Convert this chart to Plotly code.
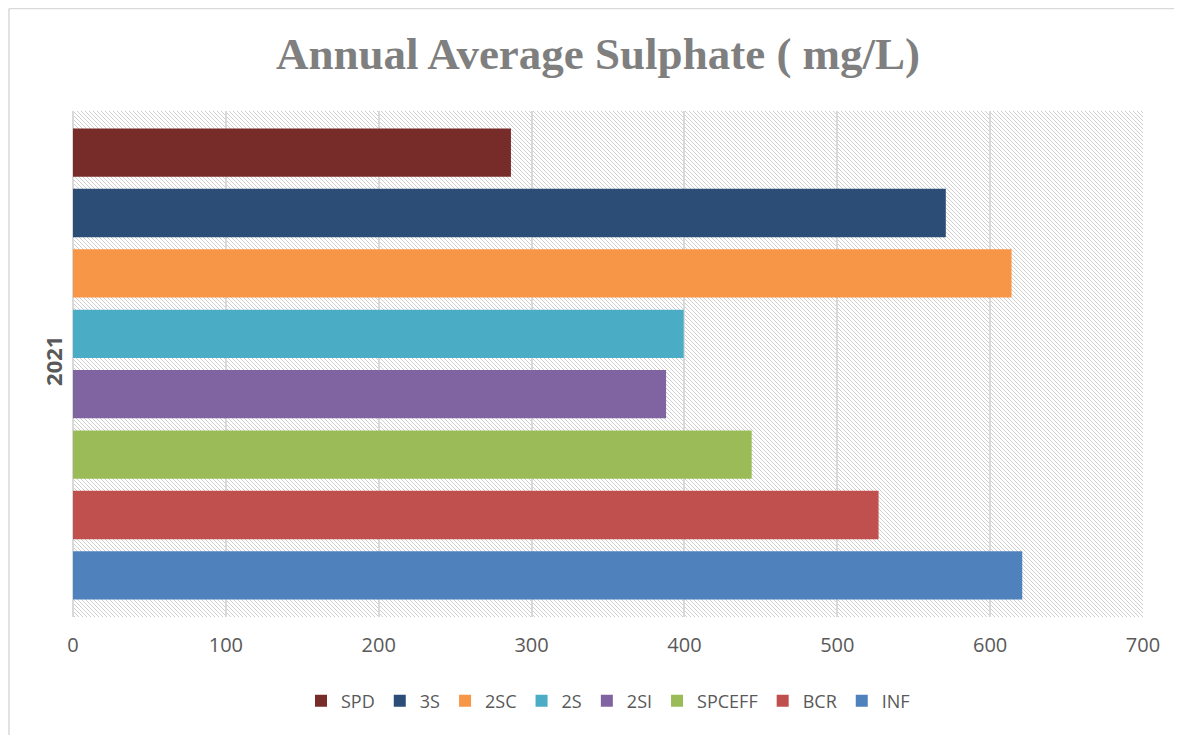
import base64
import plotly.graph_objects as go

# sulphate, annual average, 2021 (mg/L)
year = "2021"
sites = ["INF", "BCR", "SPCEFF", "2SI", "2S", "2SC", "3S", "SPD"]
values = [621, 527, 444, 388, 399.5, 614, 571, 286.5]
colors = ["#4F81BD", "#C0504D", "#9BBB59", "#8064A2", "#4BACC6", "#F79646", "#2C4D75", "#772C2A"]
x_ticks = [0, 100, 200, 300, 400, 500, 600, 700]

# light downward diagonal hatch, like the excel plot area fill
hatch = (
    '<svg xmlns="http://www.w3.org/2000/svg" width="1070" height="506" preserveAspectRatio="none">'
    '<defs><pattern id="h" width="4" height="4" patternUnits="userSpaceOnUse">'
    '<rect x="0" y="0" width="1" height="1" fill="#cfcfcf"/>'
    '<rect x="1" y="1" width="1" height="1" fill="#cfcfcf"/>'
    '<rect x="2" y="2" width="1" height="1" fill="#cfcfcf"/>'
    '<rect x="3" y="3" width="1" height="1" fill="#cfcfcf"/>'
    '</pattern></defs><rect width="100%" height="100%" fill="url(#h)"/></svg>'
)
hatch_uri = "data:image/svg+xml;base64," + base64.b64encode(hatch.encode()).decode()

fig = go.Figure()
for name, val, col in zip(sites, values, colors):
    fig.add_trace(go.Bar(
        y=[year], x=[val], name=name, orientation="h",
        marker=dict(color=col, line=dict(width=0)),
    ))

# page body adds 8px offset, so the figure is 8px smaller
W, H = 1174, 727
fig.update_layout(
    width=W, height=H,
    autosize=False,
    margin=dict(l=65, r=39, t=103, b=118),
    paper_bgcolor="white",
    plot_bgcolor="rgba(0,0,0,0)",
    barmode="group",
    bargap=0.045,
    bargroupgap=0.2,
    title=dict(
        text="<b>Annual Average Sulphate ( mg/L)</b>",
        x=(598 - 8) / W, xanchor="center", xref="container",
        y=1 - 45 / H, yanchor="middle",
        font=dict(family="Liberation Serif", size=45, color="#7f7f7f"),
    ),
    font=dict(family="Open Sans", color="#595959"),
    legend=dict(
        orientation="h", traceorder="reversed",
        x=0.5, xanchor="center", y=-0.166, yanchor="middle",
        font=dict(size=18, color="#595959"),
        itemwidth=30,
    ),
    images=[dict(
        source=hatch_uri, xref="paper", yref="paper",
        x=0, y=1, sizex=1, sizey=1, xanchor="left", yanchor="top",
        sizing="stretch", layer="below",
    )],
    shapes=[
        dict(type="line", xref="paper", yref="paper",
             x0=-64 / 1070, x1=1.05, y0=(506 + 102.5) / 506, y1=(506 + 102.5) / 506,
             line=dict(color="#d9d9d9", width=1.5)),
        dict(type="line", xref="paper", yref="paper",
             x0=-64 / 1070, x1=-64 / 1070, y0=(506 + 102.5) / 506, y1=-0.25,
             line=dict(color="#d9d9d9", width=1.5)),
    ],
)

fig.update_xaxes(
    range=[0, 700], tickvals=x_ticks,
    showgrid=True, gridcolor="#d9d9d9", gridwidth=1.5,
    zeroline=True, zerolinecolor="#d9d9d9", zerolinewidth=1.5,
    tickfont=dict(size=20, color="#595959"),
    ticks="", ticklabelstandoff=14,
)
fig.update_yaxes(
    tickangle=-90,
    tickfont=dict(size=22, color="#595959", family="Open Sans", weight="bold"),
    showgrid=False, zeroline=False, ticks="", ticklabelstandoff=6,
)

fig.write_html("out.html")
